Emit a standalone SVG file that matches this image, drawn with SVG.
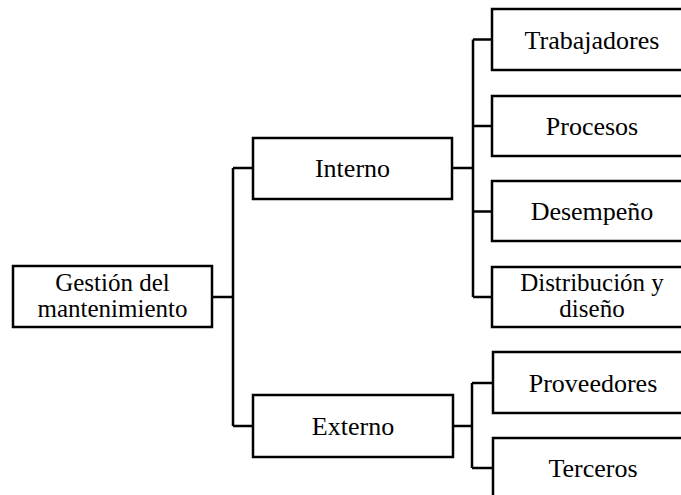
<svg xmlns="http://www.w3.org/2000/svg" width="681" height="495" viewBox="0 0 681 495">
<style>
.box{fill:#fff;stroke:#000;stroke-width:2.5}
.lbl{font-family:"Liberation Serif","Times New Roman",serif;font-size:26px;fill:#000;text-anchor:middle}
.two{font-size:25px}
.con{fill:none;stroke:#000;stroke-width:2.5}
</style>
<rect width="681" height="495" fill="#fff"/>
<g id="connectors">
<path class="con" d="M212,297 H233 M233,168 V426 M233,168 H253 M233,426 H253"/>
<path class="con" d="M452,168 H473 M473,39.5 V297 M473,39.5 H492 M473,126 H492 M473,211.5 H492 M473,297 H492"/>
<path class="con" d="M453,426 H472 M472,383 V468 M472,383 H493 M472,468 H493"/>
</g>
<g id="root"><rect class="box" x="13" y="266" width="199" height="61"/><text class="lbl two" x="112.5" y="291">Gestión del</text><text class="lbl two" x="112.5" y="317">mantenimiento</text></g>
<g id="interno"><rect class="box" x="253" y="138" width="199" height="61"/><text class="lbl" x="352.5" y="177">Interno</text></g>
<g id="externo"><rect class="box" x="253" y="395" width="200" height="62"/><text class="lbl" x="353" y="435">Externo</text></g>
<g id="trabajadores"><rect class="box" x="492" y="9" width="200" height="61"/><text class="lbl" x="592" y="49">Trabajadores</text></g>
<g id="procesos"><rect class="box" x="492" y="96" width="200" height="60"/><text class="lbl" x="592" y="135">Procesos</text></g>
<g id="desempeno"><rect class="box" x="492" y="181" width="200" height="60"/><text class="lbl" x="592" y="220">Desempeño</text></g>
<g id="distribucion"><rect class="box" x="492" y="267" width="200" height="60"/><text class="lbl two" x="592" y="291">Distribución y</text><text class="lbl two" x="592" y="317">diseño</text></g>
<g id="proveedores"><rect class="box" x="493" y="352" width="200" height="61"/><text class="lbl" x="593" y="392">Proveedores</text></g>
<g id="terceros"><rect class="box" x="493" y="438" width="200" height="62"/><text class="lbl" x="593" y="477">Terceros</text></g>
</svg>
